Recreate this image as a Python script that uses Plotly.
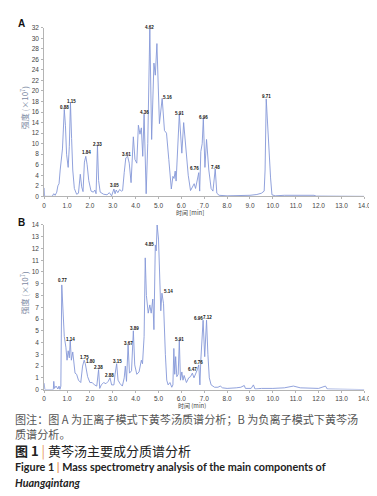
import plotly.graph_objects as go

W, H = 377, 496

# ---------------- data ----------------
A_time = [0, 0.02, 0.35, 0.42, 0.48, 0.55, 0.6, 0.65, 0.7, 0.75, 0.8, 0.88, 0.93, 0.98, 1.05, 1.1, 1.15,
          1.2, 1.25, 1.32, 1.42, 1.5, 1.58, 1.64, 1.7, 1.76, 1.82, 1.88, 1.95, 2.05, 2.15, 2.22, 2.27,
          2.33, 2.38, 2.45, 2.6, 2.75, 2.85, 2.95, 3.05, 3.1, 3.15, 3.22, 3.3, 3.38, 3.43, 3.5, 3.57,
          3.65, 3.72, 3.8, 3.9, 3.97, 4.05, 4.12, 4.19, 4.25, 4.31, 4.37, 4.42, 4.46, 4.53, 4.62, 4.7,
          4.8, 4.86, 4.93, 5.04, 5.16, 5.26, 5.35, 5.45, 5.56, 5.63, 5.68, 5.73, 5.77, 5.91, 6.02, 6.1,
          6.2, 6.3, 6.4, 6.5, 6.56, 6.62, 6.7, 6.76, 6.8, 6.85, 6.91, 6.96, 7.03, 7.1, 7.2, 7.3, 7.38,
          7.43, 7.48, 7.55, 7.65, 8.0, 8.5, 9.0, 9.3, 9.5, 9.62, 9.66, 9.71, 9.8, 9.9, 9.96, 10.1,
          10.5, 11.0, 11.5, 11.8, 11.9, 14.0]
A_int = [1.6, 0, 0, 0.5, 0.2, 0.8, 2.0, 2.4, 5.0, 6.5, 9.0, 16.5, 13.5, 8.0, 5.5, 9.5, 17.8,
         11.0, 5.0, 1.5, 0.4, 0.6, 4.2, 1.8, 0.9, 6.5, 7.6, 6.0, 3.0, 1.0, 0.8, 1.2, 0.5,
         9.6, 3.0, 0.8, 0.4, 0.3, 0.7, 0.1, 1.4, 0.5, 1.2, 0.7, 1.3, 1.0, 1.1, 4.5, 7.3,
         7.6, 6.3, 2.6, 11.3, 7.0, 6.3, 13.5, 11.8, 13.0, 7.6, 15.6, 3.0, 0.5, 10.0, 31.8, 10.8,
         25.3, 23.0, 29.0, 13.8, 18.6, 12.5, 12.0, 7.0, 1.4, 3.8, 3.4, 4.8, 2.9, 15.6, 8.2, 14.0,
         8.8, 4.0, 1.1, 1.8, 2.4, 1.5, 3.2, 4.5, 1.0, 8.5, 10.0, 14.8, 5.5, 10.8, 5.0, 1.5, 1.0,
         3.0, 5.2, 0.6, 0.2, 0.1, 0.1, 0.2, 0.35, 0.6, 1.0, 5.0, 18.5, 10.0, 3.5, 0.3, 0.1,
         0.2, 0.2, 0.25, 0.2, 0.05, 0]

B_time = [0, 0.03, 0.4, 0.42, 0.45, 0.52, 0.6, 0.65, 0.69, 0.73, 0.77, 0.82, 0.88, 0.95, 1.0, 1.05,
          1.1, 1.14, 1.19, 1.25, 1.3, 1.35, 1.42, 1.5, 1.6, 1.68, 1.75, 1.8, 1.9, 2.0, 2.1, 2.2, 2.3,
          2.38, 2.43, 2.5, 2.6, 2.7, 2.8, 2.88, 2.95, 3.05, 3.1, 3.17, 3.23, 3.32, 3.42, 3.5, 3.55,
          3.6, 3.67, 3.73, 3.82, 3.9, 3.96, 4.05, 4.15, 4.25, 4.3, 4.37, 4.42, 4.47, 4.55, 4.62, 4.68,
          4.75, 4.8, 4.86, 4.9, 4.94, 5.0, 5.05, 5.1, 5.15, 5.22, 5.3, 5.36, 5.42, 5.5, 5.58, 5.63,
          5.67, 5.71, 5.75, 5.8, 5.86, 5.91, 5.96, 6.02, 6.07, 6.12, 6.22, 6.32, 6.4, 6.48, 6.55,
          6.62, 6.7, 6.76, 6.81, 6.85, 6.9, 6.95, 7.02, 7.1, 7.16, 7.22, 7.3, 7.45, 7.6, 7.7, 7.8,
          8.0, 8.4, 8.6, 8.75, 8.8, 9.05, 9.15, 9.22, 9.5, 10.0, 10.5, 10.9, 11.2, 12.0, 12.3, 12.38, 14.0]
B_int = [0.55, 0, 0, 0.7, 0.1, 0.3, 0.05, 0.3, 0, 0.3, 8.9, 6.8, 4.5, 3.6, 2.5, 3.3,
         2.7, 4.2, 2.5, 3.2, 1.9, 1.4, 1.3, 0.8, 0.6, 2.0, 2.5, 2.2, 1.1, 0.6, 0.6, 0.4, 0.3,
         1.7, 0.1, 0.4, 0.6, 0.5, 0.7, 1.0, 0.4, 0.4, 1.3, 2.2, 0.8, 0.5, 0.3, 1.0, 2.0,
         0.7, 3.8, 1.4, 1.6, 5.0, 2.1, 1.3, 1.5, 2.5, 2.2, 4.5, 11.2, 8.0, 6.5, 7.2, 6.5,
         7.7, 5.1, 12.3, 11.8, 14.0, 12.8, 9.0, 6.7, 8.2, 7.3, 3.0, 0.8, 0.4, 0.6, 0.2, 0.4,
         3.5, 1.3, 2.8, 1.1, 1.3, 4.2, 0.8, 1.5, 0.8, 1.2, 0.6, 1.0, 1.1, 1.4, 1.0,
         1.3, 1.7, 2.1, 0.4, 2.5, 3.8, 5.9, 2.8, 5.9, 3.0, 1.0, 0.4, 0.2, 0.2, 0.3, 0.15,
         0.1, 0.15, 0.2, 0.35, 0.1, 0.1, 0.4, 0.05, 0.1, 0.1, 0.15, 0.3, 0.15, 0.1, 0.3, 0.05, 0]

A_labels = ["0.88", "1.15", "1.84", "2.33", "3.05", "3.61", "4.36", "4.62", "5.16", "5.91",
            "6.76", "6.96", "7.48", "9.71"]
A_label_x = [0.87, 1.19, 1.86, 2.33, 3.07, 3.61, 4.40, 4.61, 5.40, 5.93, 6.58, 6.98, 7.48, 9.71]
A_label_y = [16.8, 18.1, 8.3, 9.9, 2.0, 7.9, 16.0, 32.0, 18.7, 15.7, 5.2, 14.9, 5.4, 18.9]

B_labels = ["0.77", "1.14", "1.75", "1.80", "2.38", "2.88", "3.15", "3.67", "3.89", "4.85", "4.87",
            "5.14", "5.91", "6.47", "6.76", "6.96", "7.12"]
B_label_x = [0.79, 1.14, 1.76, 2.04, 2.39, 2.86, 3.19, 3.70, 3.94, 4.61, 4.90, 5.43, 5.90, 6.48,
             6.74, 6.74, 7.16]
B_label_y = [9.25, 4.3, 2.7, 2.4, 1.87, 1.17, 2.37, 3.96, 5.2, 12.3, 14.3, 8.35, 4.3, 1.67, 2.3,
             6.05, 6.13]

X_TICKS = [0, 1, 2, 3, 4, 5, 6, 7, 8, 9, 10, 11, 12, 13, 14]
X_TICK_TEXT = ["0", "1.0", "2.0", "3.0", "4.0", "5.0", "6.0", "7.0", "8.0", "9.0", "10.0",
               "11.0", "12.0", "13.0", "14.0"]
A_YTICKS = [0, 2, 4, 6, 8, 10, 12, 14, 16, 18, 20, 22, 24, 26, 28, 30, 32]
B_YTICKS = [0, 1, 2, 3, 4, 5, 6, 7, 8, 9, 10, 11, 12, 13, 14]

# ---------------- styling ----------------
LINE = "#8597d8"
AXIS = "#b4b4b4"
TICKFONT = dict(family="Liberation Sans", size=6.5, color="#444444")


def px(x):
    return x / W


def py(y):
    return 1 - y / H


fig = go.Figure()
fig.add_trace(go.Scatter(x=A_time, y=A_int, mode="lines", line=dict(color=LINE, width=0.9),
                         xaxis="x", yaxis="y", hoverinfo="skip"))
fig.add_trace(go.Scatter(x=B_time, y=B_int, mode="lines", line=dict(color=LINE, width=0.9),
                         xaxis="x2", yaxis="y2", hoverinfo="skip"))

common = dict(showgrid=False, zeroline=False, showline=True, linecolor=AXIS, linewidth=1,
              ticks="outside", ticklen=2, tickcolor=AXIS, tickfont=TICKFONT, ticklabelstandoff=1)

fig.update_layout(
    width=W, height=H, margin=dict(l=0, r=0, t=0, b=0),
    paper_bgcolor="white", plot_bgcolor="white", showlegend=False,
    xaxis=dict(domain=[px(35), px(363)], range=[0, 14], anchor="y", tickmode="array",
               tickvals=X_TICKS, ticktext=X_TICK_TEXT, **common),
    yaxis=dict(domain=[py(187), py(16)], range=[0, 32], anchor="x", tickmode="array",
               tickvals=A_YTICKS, **common),
    xaxis2=dict(domain=[px(35), px(363)], range=[0, 14], anchor="y2", tickmode="array",
                tickvals=X_TICKS, ticktext=X_TICK_TEXT, **common),
    yaxis2=dict(domain=[py(383), py(216)], range=[0, 14], anchor="x2", tickmode="array",
                tickvals=B_YTICKS, **common),
)

ann = []
LABFONT = dict(family="Liberation Sans", size=4.5, color="#111111")
for t, xx, yy in zip(A_labels, A_label_x, A_label_y):
    ann.append(dict(xref="x", yref="y", x=xx, y=yy, text="<b>" + t + "</b>", showarrow=False,
                    font=LABFONT, xanchor="center", yanchor="middle"))
for t, xx, yy in zip(B_labels, B_label_x, B_label_y):
    ann.append(dict(xref="x2", yref="y2", x=xx, y=yy, text="<b>" + t + "</b>", showarrow=False,
                    font=LABFONT, xanchor="center", yanchor="middle"))

CJK = "Noto Sans CJK SC"
TITLEFONT = dict(family=CJK, size=8, color="#7d8aa3")
# panel letters
ann.append(dict(xref="paper", yref="paper", x=px(7), y=py(12), text="<b>A</b>", showarrow=False,
                font=dict(family="Liberation Sans", size=10, color="#111"), xanchor="left", yanchor="middle"))
ann.append(dict(xref="paper", yref="paper", x=px(7), y=py(214), text="<b>B</b>", showarrow=False,
                font=dict(family="Liberation Sans", size=10, color="#111"), xanchor="left", yanchor="middle"))
# y-axis titles
ann.append(dict(xref="paper", yref="paper", x=px(15), y=py(97), text="强度 (×10<sup>7</sup>)",
                textangle=-90, showarrow=False, font=TITLEFONT, xanchor="center", yanchor="middle"))
ann.append(dict(xref="paper", yref="paper", x=px(15), y=py(285), text="强度 (×10<sup>7</sup>)",
                textangle=-90, showarrow=False, font=TITLEFONT, xanchor="center", yanchor="middle"))
# x-axis titles
ann.append(dict(xref="paper", yref="paper", x=px(184), y=py(203.5), text="时间 [min]", showarrow=False,
                font=dict(family=CJK, size=6, color="#444"), xanchor="center", yanchor="middle"))
ann.append(dict(xref="paper", yref="paper", x=px(186), y=py(399.5), text="时间 (min)", showarrow=False,
                font=dict(family=CJK, size=6, color="#444"), xanchor="center", yanchor="middle"))

# caption
ann.append(dict(xref="paper", yref="paper", x=px(4), y=py(412.5),
                text="图注：图 A 为正离子模式下黄芩汤质谱分析；B 为负离子模式下黄芩汤",
                showarrow=False, font=dict(family=CJK, size=11.1, color="#555555"),
                xanchor="left", yanchor="middle"))
ann.append(dict(xref="paper", yref="paper", x=px(4), y=py(428), text="质谱分析。",
                showarrow=False, font=dict(family=CJK, size=11.1, color="#555555"),
                xanchor="left", yanchor="middle"))
ann.append(dict(xref="paper", yref="paper", x=px(4), y=py(445),
                text="<b>图 1</b> <span style='color:#e99a5c'>|</span> 黄芩汤主要成分质谱分析",
                showarrow=False, font=dict(family=CJK, size=13, color="#222222"),
                xanchor="left", yanchor="middle"))
ann.append(dict(xref="paper", yref="paper", x=px(4), y=py(461.5),
                text="<b>Figure 1 <span style='color:#e99a5c'>|</span> Mass spectrometry analysis of the main components of</b>",
                showarrow=False, font=dict(family="Lato", size=10.8, color="#222222"),
                xanchor="left", yanchor="middle"))
ann.append(dict(xref="paper", yref="paper", x=px(4), y=py(477), text="<b><i>Huangqintang</i></b>",
                showarrow=False, font=dict(family="Lato", size=10.8, color="#222222"),
                xanchor="left", yanchor="middle"))

for a in ann:
    a["borderpad"] = 0

fig.update_layout(annotations=ann)
fig.write_html("out.html")
